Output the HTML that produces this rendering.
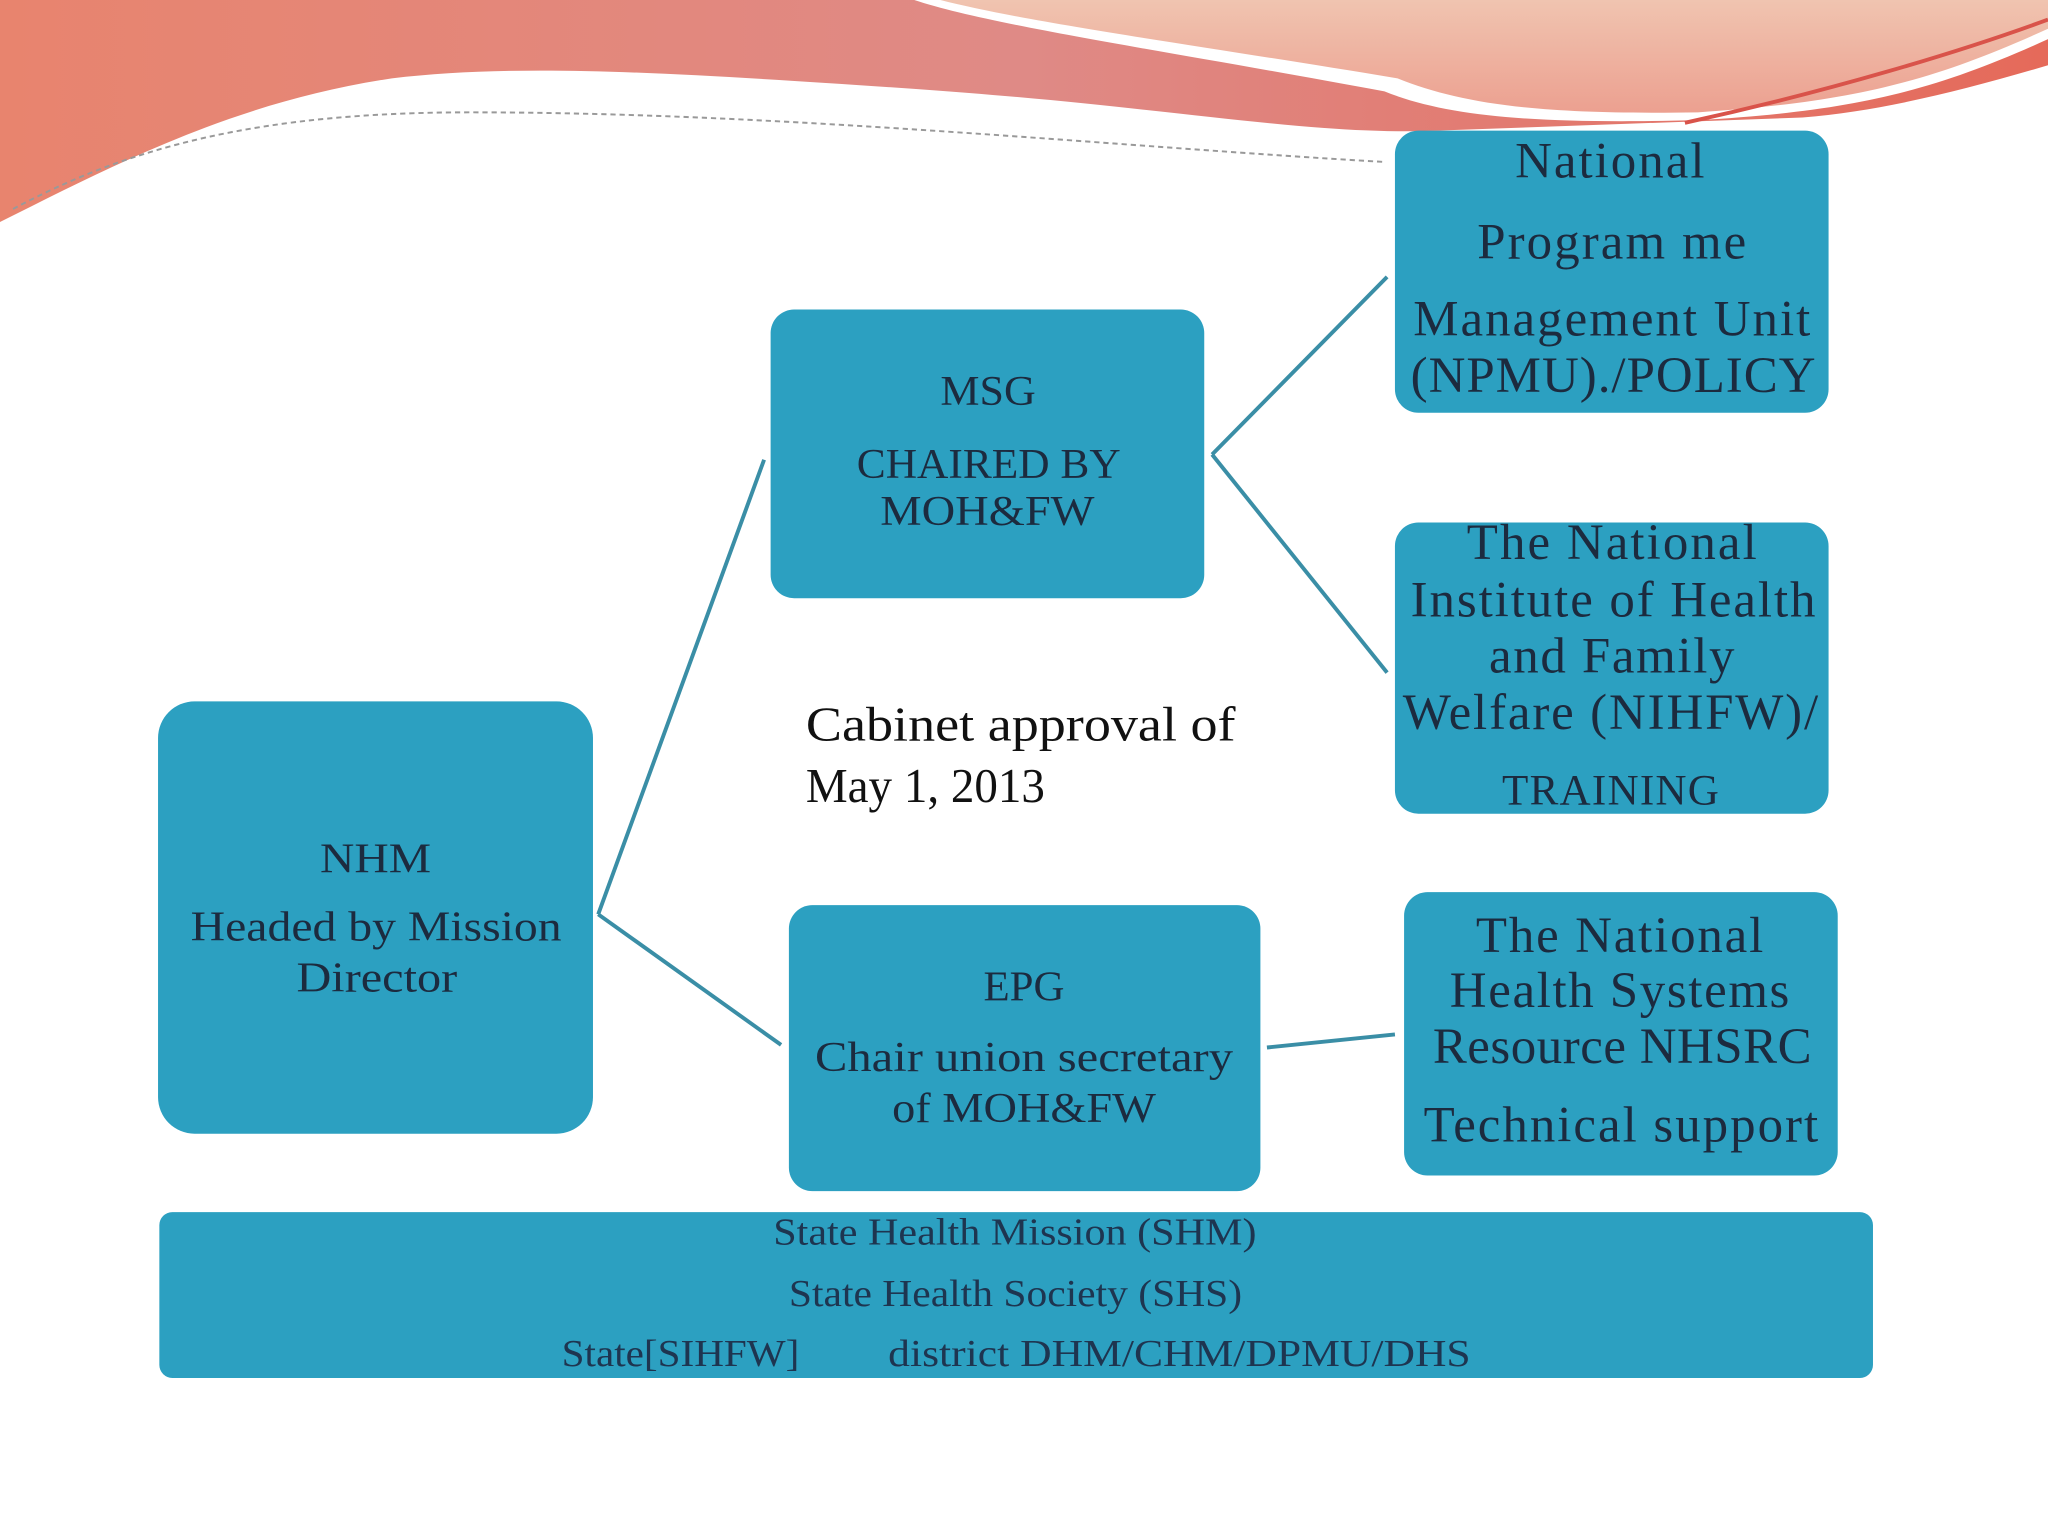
<!DOCTYPE html>
<html><head><meta charset="utf-8"><style>html,body{margin:0;padding:0;background:#fff}svg{display:block}</style></head>
<body>
<svg width="2048" height="1536" viewBox="0 0 1568 1176" xmlns="http://www.w3.org/2000/svg" font-family="'Liberation Serif', serif" fill="#1c2b3f">
<defs>
<linearGradient id="pk" x1="0" y1="0" x2="1" y2="0"><stop offset="0" stop-color="#e8846e"/><stop offset="0.5" stop-color="#df8a86"/><stop offset="1" stop-color="#e56a5a"/></linearGradient>
<linearGradient id="pc" x1="0" y1="0" x2="0" y2="1"><stop offset="0" stop-color="#f0c4b0"/><stop offset="1" stop-color="#eca090"/></linearGradient>
</defs>
<rect width="1568" height="1176" fill="#fff"/>
<path d="M0 0 H1568 V50 C1500 70 1440 85 1380 90 L1100 100 C1000 104 900 82 700 68 C520 56 400 48 300 60 C180 78 90 125 0 170 Z" fill="url(#pk)"/>
<path d="M700 0 H1568 V30 C1480 70 1420 85 1300 92 C1180 95 1110 90 1060 70 C900 40 760 20 700 0 Z" fill="#fff"/>
<path d="M720 0 H1568 V22 C1480 62 1420 78 1300 86 C1180 88 1120 80 1070 60 C920 35 790 18 720 0 Z" fill="url(#pc)"/>
<path d="M10 160 C100 112 200 86 360 86 C600 86 850 112 1060 124" fill="none" stroke="#999" stroke-width="1.5" stroke-dasharray="4 3"/>
<path d="M1290 94 C1400 70 1500 40 1568 15" fill="none" stroke="#d9534a" stroke-width="3"/>
<g stroke="#3a8ea6" stroke-width="3" fill="none">
<line x1="458" y1="700" x2="585" y2="352"/>
<line x1="458" y1="700" x2="598" y2="800"/>
<line x1="928" y1="348" x2="1062" y2="212"/>
<line x1="928" y1="348" x2="1062" y2="515"/>
<line x1="970" y1="802" x2="1068" y2="792"/>
</g>
<g fill="#2ca0c1">
<rect x="1068" y="100" width="332" height="216" rx="18"/>
<rect x="590" y="237" width="332" height="221" rx="18"/>
<rect x="1068" y="400" width="332" height="223" rx="18"/>
<rect x="121" y="537" width="333" height="331" rx="28"/>
<rect x="604" y="693" width="361" height="219" rx="18"/>
<rect x="1075" y="683" width="332" height="217" rx="18"/>
<rect x="122" y="928" width="1312" height="127" rx="10"/>
</g>
<g font-size="39" lengthAdjust="spacingAndGlyphs">
<text x="1160" y="136" textLength="145">National</text>
<text x="1131" y="198" textLength="206">Program me</text>
<text x="1082" y="257" textLength="304">Management Unit</text>
<text x="1080" y="300" textLength="310">(NPMU)./POLICY</text>
<text x="1123" y="428" textLength="222">The National</text>
<text x="1080" y="472" textLength="310">Institute of Health</text>
<text x="1140" y="515" textLength="188">and Family</text>
<text x="1074" y="558" textLength="318">Welfare (NIHFW)/</text>
<text x="1150" y="616" textLength="166" font-size="33">TRAINING</text>
<text x="1130" y="729" textLength="220">The National</text>
<text x="1110" y="771" textLength="260">Health Systems</text>
<text x="1097" y="814" textLength="290">Resource NHSRC</text>
<text x="1090" y="874" textLength="302">Technical support</text>
</g>
<g font-size="32">
<text x="720" y="310" textLength="73" lengthAdjust="spacingAndGlyphs">MSG</text>
<text x="656" y="366" textLength="202" lengthAdjust="spacingAndGlyphs">CHAIRED BY</text>
<text x="674" y="402" textLength="164" lengthAdjust="spacingAndGlyphs">MOH&amp;FW</text>
<text x="245" y="668" textLength="85" lengthAdjust="spacingAndGlyphs">NHM</text>
<text x="146" y="720" textLength="284" lengthAdjust="spacingAndGlyphs">Headed by Mission</text>
<text x="227" y="759" textLength="123" lengthAdjust="spacingAndGlyphs">Director</text>
<text x="753" y="766" textLength="62" lengthAdjust="spacingAndGlyphs">EPG</text>
<text x="624" y="820" textLength="320" lengthAdjust="spacingAndGlyphs">Chair union secretary</text>
<text x="683" y="859" textLength="202" lengthAdjust="spacingAndGlyphs">of MOH&amp;FW</text>
</g>
<g font-size="29" fill="#1e3550">
<text x="592" y="953" textLength="370" lengthAdjust="spacingAndGlyphs">State Health Mission (SHM)</text>
<text x="604" y="1000" textLength="347" lengthAdjust="spacingAndGlyphs">State Health Society (SHS)</text>
<text x="430" y="1046" textLength="182" lengthAdjust="spacingAndGlyphs">State[SIHFW]</text>
<text x="680" y="1046" textLength="446" lengthAdjust="spacingAndGlyphs">district  DHM/CHM/DPMU/DHS</text>
</g>
<text x="617" y="567" font-size="37" fill="#111" textLength="329" lengthAdjust="spacingAndGlyphs">Cabinet approval of</text>
<text x="617" y="614" font-size="37" fill="#111" textLength="183" lengthAdjust="spacingAndGlyphs">May 1, 2013</text>
</svg>
</body></html>
